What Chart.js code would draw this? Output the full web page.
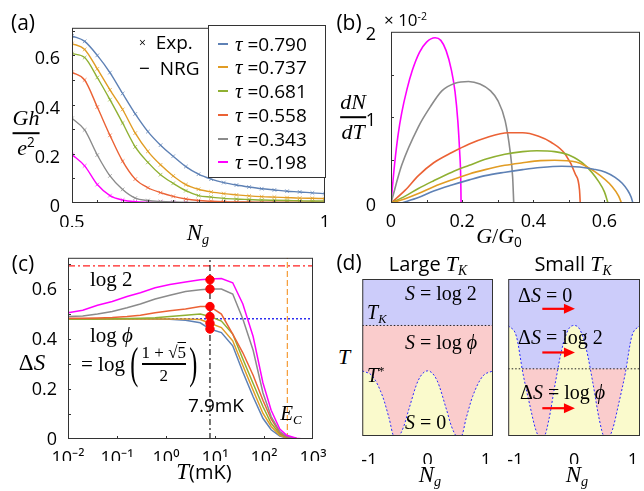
<!DOCTYPE html>
<html><head><meta charset="utf-8">
<script src="https://cdn.jsdelivr.net/npm/chart.js@4.4.1/dist/chart.umd.min.js"></script>
<style>
body{margin:0;background:#fff;width:644px;height:491px;overflow:hidden;position:relative;font-family:"Open Sans",sans-serif;color:#000;}
canvas{position:absolute;}
.t{position:absolute;transform:translate(-50%,-50%);white-space:nowrap;line-height:1;}
.tl{position:absolute;transform:translate(0,-50%);white-space:nowrap;line-height:1;}
.m{font-family:"Liberation Serif",serif;font-style:italic;}
.up{font-style:normal;}
.sans{font-family:"Open Sans",sans-serif;font-style:normal;}
.sup{font-size:.62em;position:relative;top:-.55em;}
.sub{font-size:.62em;position:relative;top:.3em;}
.frac{position:absolute;transform:translate(-50%,-50%);display:flex;flex-direction:column;align-items:center;line-height:1;}
.bar{height:1.6px;background:#000;align-self:stretch;margin:3px 0 3px 0;}
.legend{position:absolute;left:208px;top:25px;width:116px;height:151px;border:1px solid #333;background:#fff;}
.sw{position:absolute;width:10px;height:2px;}
</style></head><body>

<canvas id="ca"></canvas>
<canvas id="cb"></canvas>
<canvas id="cc"></canvas>
<canvas id="cdl"></canvas>
<canvas id="cdr"></canvas>

<!-- panel (a) texts -->
<div class="t" style="left:23px;top:22px;font-size:21px">(a)</div>
<div class="frac m" style="left:26px;top:133px;font-size:22px"><span>Gh</span><span class="bar"></span><span>e<span class="sup up" style="font-family:'Open Sans'">2</span></span></div>
<div class="t m" style="left:198px;top:232px;font-size:23px">N<span class="sub">g</span></div>
<div class="tl" style="left:139px;top:42px;font-size:19px"><span style="font-size:12px;position:relative;top:-2px">×</span>&nbsp; Exp.</div>
<div class="tl" style="left:139px;top:68px;font-size:19px">−&nbsp; NRG</div>
<div class="legend" id="leg"></div>

<!-- panel (b) texts -->
<div class="t" style="left:349px;top:22px;font-size:21px">(b)</div>
<div class="tl" style="left:384px;top:19px;font-size:17px">× 10<span class="sup">-2</span></div>
<div class="frac m" style="left:353px;top:117px;font-size:22px"><span>dN</span><span class="bar"></span><span>dT</span></div>
<div class="t m" style="left:499px;top:236px;font-size:22px">G<span class="up">/</span>G<span class="sub up" style="font-family:'Open Sans'">0</span></div>

<!-- panel (c) texts -->
<div class="t" style="left:23px;top:263px;font-size:21px">(c)</div>
<div class="t" style="left:32px;top:362px;font-size:23px"><span style="font-family:'Liberation Serif'">Δ</span><span class="m">S</span></div>
<div class="t" style="left:204px;top:471px;font-size:20px"><span class="m" style="font-size:23px">T</span>(mK)</div>
<div class="tl m" style="left:90px;top:279px;font-size:21px"><span class="up">log 2</span></div>
<div class="tl m" style="left:90px;top:335px;font-size:21px"><span class="up">log </span>ϕ</div>
<div class="tl" style="left:81px;top:364px;display:flex;align-items:center;font-family:'Liberation Serif',serif;font-size:21px">
  <span>= log</span><span style="font-size:44px;margin-left:2px;transform:scaleX(0.55)">(</span>
  <span style="display:flex;flex-direction:column;align-items:center;font-size:17px;line-height:1"><span>1 + √<span style="text-decoration:overline">5</span></span><span class="bar" style="height:1.3px;margin:2px 0"></span><span>2</span></span>
  <span style="font-size:44px;transform:scaleX(0.55)">)</span></div>
<div class="t" style="left:216px;top:405px;font-size:19px">7.9mK</div>
<div class="t m" style="left:291px;top:413px;font-size:21px">E<span class="sub">C</span></div>

<!-- panel (d) texts -->
<div class="t" style="left:349px;top:262px;font-size:21px">(d)</div>
<div class="t" style="left:428px;top:264px;font-size:20px">Large <span class="m" style="font-size:22px">T<span class="sub">K</span></span></div>
<div class="t" style="left:573px;top:264px;font-size:20px">Small <span class="m" style="font-size:22px">T<span class="sub">K</span></span></div>
<div class="t m" style="left:344px;top:357px;font-size:22px">T</div>
<div class="t m" style="left:430px;top:474px;font-size:23px">N<span class="sub">g</span></div>
<div class="t m" style="left:577px;top:474px;font-size:23px">N<span class="sub">g</span></div>
<div class="tl m" style="left:405px;top:293px;font-size:20px">S <span class="up">= log 2</span></div>
<div class="tl m" style="left:367px;top:312px;font-size:20px">T<span class="sub">K</span></div>
<div class="tl m" style="left:405px;top:342px;font-size:20px">S <span class="up">= log </span>ϕ</div>
<div class="tl m" style="left:367px;top:375px;font-size:20px">T<span class="sup up">*</span></div>
<div class="tl m" style="left:405px;top:422px;font-size:20px">S <span class="up">= 0</span></div>
<div class="tl m" style="left:518px;top:295px;font-size:20px"><span class="up">Δ</span>S <span class="up">= 0</span></div>
<div class="tl m" style="left:518px;top:337px;font-size:20px"><span class="up">Δ</span>S <span class="up">= log 2</span></div>
<div class="tl m" style="left:520px;top:392px;font-size:20px"><span class="up">Δ</span>S <span class="up">= log </span>ϕ</div>

<script>
// ---------- panel (a): conductance vs Ng ----------
const tauLabels = ['0.790','0.737','0.681','0.558','0.343','0.198'];
const seriesColors = ['#5E81B5','#E19C24','#8FB032','#EB6235','#8B8B8B','#FF00FF'];
const ngA = [0.5,0.525,0.55,0.575,0.6,0.625,0.65,0.675,0.7,0.725,0.75,0.775,0.8,0.825,0.85,0.875,0.9,0.925,0.95,0.975,1.0];
const gA790 = [0.679,0.657,0.600,0.530,0.445,0.362,0.290,0.235,0.190,0.148,0.117,0.097,0.083,0.073,0.065,0.058,0.053,0.048,0.045,0.041,0.038];
const gA737 = [0.648,0.624,0.545,0.460,0.380,0.284,0.210,0.155,0.110,0.075,0.056,0.045,0.038,0.033,0.029,0.026,0.024,0.022,0.020,0.019,0.018];
const gA681 = [0.607,0.591,0.510,0.420,0.325,0.228,0.165,0.115,0.080,0.050,0.030,0.024,0.019,0.016,0.014,0.012,0.011,0.010,0.009,0.008,0.008];
const gA558 = [0.531,0.500,0.390,0.275,0.170,0.097,0.062,0.042,0.027,0.016,0.010,0.007,0.005,0.004,0.004,0.003,0.003,0.003,0.003,0.003,0.003];
const gA343 = [0.344,0.297,0.195,0.110,0.055,0.020,0.010,0.006,0.004,0.003,0.002,0.002,0.002,0.002,0.002,0.002,0.002,0.002,0.002,0.002,0.002];
const gA198 = [0.197,0.151,0.075,0.030,0.012,0.005,0.003,0.002,0.002,0.001,0.001,0.001,0.001,0.001,0.001,0.001,0.001,0.001,0.001,0.001,0.001];
const aXTicks = [0.5, 1], aXLabels = ['0.5','1'];
const aYTicks = [0, 0.2, 0.4, 0.6], aYLabels = ['0','0.2','0.4','0.6'];

// ---------- panel (b): dN/dT vs G/G0 (units of 1e-2) ----------
const bG790 = [0.03,0.077,0.12,0.171,0.22,0.265,0.321,0.37,0.42,0.48,0.53,0.57,0.603,0.63,0.65,0.665,0.675,0.68];
const bD790 = [0,0.064,0.14,0.21,0.27,0.32,0.36,0.39,0.415,0.43,0.42,0.395,0.36,0.30,0.23,0.15,0.07,0];
const bG737 = [0,0.04,0.077,0.12,0.171,0.22,0.265,0.32,0.37,0.42,0.46,0.52,0.575,0.622,0.64,0.648];
const bD737 = [0,0.05,0.11,0.19,0.27,0.34,0.39,0.44,0.47,0.495,0.50,0.48,0.36,0.19,0.08,0];
const bG681 = [0,0.04,0.077,0.12,0.171,0.22,0.265,0.32,0.37,0.41,0.46,0.50,0.546,0.584,0.60,0.61];
const bD681 = [0,0.08,0.17,0.26,0.36,0.44,0.51,0.57,0.60,0.61,0.60,0.56,0.44,0.25,0.13,0];
const bG558 = [0,0.04,0.077,0.12,0.171,0.22,0.265,0.33,0.37,0.415,0.45,0.49,0.518,0.53,0.532];
const bD558 = [0,0.15,0.32,0.47,0.59,0.69,0.76,0.82,0.82,0.78,0.71,0.57,0.34,0.15,0];
const bG343 = [0,0.03,0.077,0.11,0.143,0.18,0.218,0.25,0.28,0.30,0.321,0.335,0.342,0.345];
const bD343 = [0,0.44,0.89,1.12,1.31,1.40,1.42,1.39,1.31,1.20,0.96,0.60,0.30,0];
const bG198 = [0,0.01,0.02,0.03,0.045,0.06,0.08,0.10,0.124,0.14,0.155,0.17,0.18,0.188,0.193,0.196,0.197];
const bD198 = [0,0.45,0.80,1.05,1.33,1.55,1.76,1.88,1.93,1.90,1.78,1.55,1.30,0.95,0.60,0.30,0];
const bXTicks = [0,0.2,0.4,0.6], bXLabels = ['0','0.2','0.4','0.6'];
const bYTicks = [0,1,2], bYLabels = ['0','1','2'];

// ---------- panel (c): entropy vs T ----------
const tC = [0.01,0.02,0.04,0.08,0.16,0.3,0.6,1.2,2.5,5,7.9,13.5,23,37,60,95,140,210,290,460,630];
const sC790 = [0.48,0.48,0.48,0.48,0.48,0.48,0.48,0.479,0.475,0.465,0.44,0.426,0.373,0.268,0.169,0.083,0.037,0.012,0.004,0.001,0];
const sC737 = [0.48,0.48,0.48,0.48,0.48,0.48,0.48,0.48,0.48,0.478,0.463,0.446,0.393,0.294,0.195,0.103,0.05,0.015,0.005,0.001,0];
const sC681 = [0.48,0.48,0.48,0.481,0.482,0.483,0.485,0.49,0.495,0.50,0.49,0.472,0.42,0.32,0.222,0.13,0.063,0.02,0.007,0.002,0];
const sC558 = [0.483,0.483,0.484,0.486,0.49,0.495,0.505,0.513,0.52,0.53,0.53,0.50,0.42,0.345,0.255,0.155,0.08,0.025,0.008,0.002,0];
const sC343 = [0.49,0.492,0.50,0.51,0.525,0.54,0.56,0.575,0.59,0.597,0.60,0.60,0.58,0.48,0.355,0.185,0.09,0.03,0.01,0.002,0];
const sC198 = [0.505,0.515,0.535,0.55,0.57,0.585,0.605,0.618,0.628,0.637,0.64,0.642,0.625,0.54,0.41,0.225,0.115,0.04,0.015,0.003,0];
const dotT = 7.9;
const dotS = [0.44,0.463,0.49,0.53,0.60,0.637];
const log2 = 0.693, logPhi = 0.481, tEc = 300;
const cXTicks = [0.01,0.1,1,10,100,1000], cXLabels = ['10⁻²','10⁻¹','10⁰','10¹','10²','10³'];
const cYTicks = [0,0.2,0.4,0.6], cYLabels = ['0','0.2','0.4','0.6'];

// ---------- panel (d): schematic phase diagrams ----------
const ngDL = [-1.12,-0.94,-0.77,-0.66,-0.577,-0.504,-0.41,-0.325,-0.157,0,0.157,0.325,0.41,0.504,0.577,0.66,0.77,0.94,1.12];
const tStarL = [0.415,0.379,0.251,0.113,0,0,0.06,0.166,0.357,0.415,0.357,0.166,0.06,0,0,0.113,0.251,0.379,0.415];
const tKL = 0.704;
const ngDR = [-1.12,-0.98,-0.87,-0.76,-0.65,-0.595,-0.51,-0.43,-0.32,-0.21,-0.10,0,0.10,0.21,0.32,0.43,0.51,0.595,0.65,0.76,0.87,0.98,1.12];
const tStarR = [0.704,0.634,0.40,0.209,0.038,0,0,0.102,0.336,0.549,0.677,0.704,0.677,0.549,0.336,0.102,0,0,0.038,0.209,0.40,0.634,0.704];
const tKR = 0.428;
const arrowsR = [{x0:-0.54,x1:0.014,y:0.81},{x0:-0.54,x1:0.014,y:0.532},{x0:-0.54,x1:0.014,y:0.177}];
const dXTicks = [-1,0,1], dXLabels = ['-1','0','1'];

// ---------- helpers ----------
Chart.defaults.font.family = '"Open Sans", sans-serif';
Chart.defaults.font.size = 18;
Chart.defaults.color = '#000';

const pts = (xs, ys) => xs.map((x,i)=>({x, y:ys[i]}));
const fade = (hex, a) => { const n=parseInt(hex.slice(1),16); return `rgba(${n>>16},${(n>>8)&255},${n&255},${a})`; };

const framePlugin = {
  id:'frame',
  afterDatasetsDraw(chart, args, o){
    const {ctx, chartArea:a} = chart; const x = chart.scales.x, y = chart.scales.y;
    ctx.save(); ctx.strokeStyle = '#333'; ctx.lineWidth = 1;
    (o.xt||[]).forEach(t=>{ const px=Math.round(x.getPixelForValue(t[0]))+0.5; ctx.beginPath(); ctx.moveTo(px,a.bottom); ctx.lineTo(px,a.bottom-t[1]); ctx.stroke(); });
    (o.yt||[]).forEach(t=>{ const py=Math.round(y.getPixelForValue(t[0]))+0.5; ctx.beginPath(); ctx.moveTo(a.left,py); ctx.lineTo(a.left+t[1],py); ctx.stroke(); });
    ctx.strokeRect(a.left+0.5, a.top+0.5, a.right-a.left-1, a.bottom-a.top-1);
    (o.arrows||[]).forEach(ar=>{
      const x0=x.getPixelForValue(ar.x0), x1=x.getPixelForValue(ar.x1), py=y.getPixelForValue(ar.y);
      ctx.strokeStyle='#ff0000'; ctx.fillStyle='#ff0000'; ctx.lineWidth=2.2;
      ctx.beginPath(); ctx.moveTo(x0,py); ctx.lineTo(x1-9,py); ctx.stroke();
      ctx.beginPath(); ctx.moveTo(x1,py); ctx.lineTo(x1-11,py-5); ctx.lineTo(x1-11,py+5); ctx.closePath(); ctx.fill();
    });
    ctx.restore();
  }
};

function mkChart(id, box, pad, cfg){
  const cv = document.getElementById(id);
  const w = pad.l + box.r - box.l + pad.r, h = pad.t + box.b - box.t + pad.b;
  Object.assign(cv.style,{left:(box.l-pad.l)+'px', top:(box.t-pad.t)+'px', width:w+'px', height:h+'px'});
  cv.width = w; cv.height = h;
  const o = cfg.options;
  o.responsive=false; o.animation=false; o.devicePixelRatio=1; o.maintainAspectRatio=false;
  const yOff = o.scales.y.display===false;
  o.layout = {padding:{left: yOff?pad.l:0, top:pad.t, right:pad.r, bottom:0}};
  o.scales.x.afterFit = s=>{ s.height = pad.b; };
  if(!yOff) o.scales.y.afterFit = s=>{ s.width = pad.l; };
  o.plugins = Object.assign({legend:{display:false}, tooltip:{enabled:false}}, o.plugins||{});
  cfg.plugins = [framePlugin];
  return new Chart(cv, cfg);
}
function axis(type, min, max, ticks, labels, extra){
  return Object.assign({type, min, max, grid:{display:false}, border:{display:false},
    afterBuildTicks: s=>{ s.ticks = ticks.map(v=>({value:v})); },
    ticks:{autoSkip:false, maxRotation:0, padding:3, callback:(v)=>{ const i=ticks.findIndex(t=>Math.abs(t-v)<1e-9*Math.max(1,Math.abs(v))); return i>=0?labels[i]:''; }}
  }, extra||{});
}
const range = (a,b,s)=>{ const r=[]; for(let v=a; v<=b+1e-9; v+=s) r.push(+v.toFixed(6)); return r; };

// ---------- chart (a) ----------
const aSeries = [gA790,gA737,gA681,gA558,gA343,gA198];
const axA = axis('linear',0.5,1,aXTicks,aXLabels); axA.ticks.padding = 1;
const ayA = axis('linear',0,0.712,aYTicks,aYLabels); ayA.ticks.padding = 4; ayA.ticks.labelOffset = 4;
mkChart('ca',{l:72,t:25,r:325,b:203},{l:60,t:12,r:12,b:24},{
  type:'scatter',
  data:{datasets: aSeries.map((g,k)=>({data:pts(ngA,g), showLine:true, borderColor:seriesColors[k], borderWidth:1.4,
     cubicInterpolationMode:'monotone', pointStyle:'crossRot', pointRadius:2.6, pointBorderWidth:1,
     pointBorderColor:fade(seriesColors[k],0.7), pointBackgroundColor:'transparent'}))},
  options:{scales:{x:axA, y:ayA},
    plugins:{frame:{xt:range(0.55,0.95,0.05).map(v=>[v,3]), yt:range(0.1,0.7,0.1).map(v=>[v,3])}}}
});
// legend (a)
const leg = document.getElementById('leg');
tauLabels.forEach((lab,k)=>{
  const yy = 17.7 + k*23.7;
  leg.insertAdjacentHTML('beforeend',
   `<div class="sw" style="left:9px;top:${yy-1}px;background:${seriesColors[k]}"></div>`+
   `<div class="tl" style="left:26px;top:${yy}px;font-size:19px"><span class="m" style="font-size:21px">τ</span> =${lab}</div>`);
});

// ---------- chart (b) ----------
const bSeries = [[bG790,bD790],[bG737,bD737],[bG681,bD681],[bG558,bD558],[bG343,bD343],[bG198,bD198]];
const axB = axis('linear',0,0.7,bXTicks,bXLabels); axB.ticks.padding = 0;
const ayB = axis('linear',0,2.0,bYTicks,bYLabels); ayB.ticks.padding = 7; ayB.ticks.labelOffset = 3;
mkChart('cb',{l:391,t:28,r:640,b:203},{l:40,t:14,r:10,b:24},{
  type:'scatter',
  data:{datasets: bSeries.map((s,k)=>({data:pts(s[0],s[1]), showLine:true, borderColor:seriesColors[k], borderWidth:1.6,
     cubicInterpolationMode:'monotone', pointRadius:0}))},
  options:{scales:{x:axB, y:ayB},
    plugins:{frame:{xt:range(0.1,0.6,0.1).map(v=>[v,3]), yt:range(0.5,1.5,0.5).map(v=>[v,3])}}}
});

// ---------- chart (c) ----------
const cSeries = [sC790,sC737,sC681,sC558,sC343,sC198];
const axC = axis('logarithmic',0.01,1000,cXTicks,cXLabels); axC.ticks.padding = 1;
const ayC = axis('linear',0,0.725,cYTicks,cYLabels); ayC.ticks.padding = 3; ayC.ticks.labelOffset = 1;
const cDatasets = [
  {data:[{x:0.01,y:log2},{x:1000,y:log2}], showLine:true, borderColor:'#ff2020', borderWidth:1.2, borderDash:[7,3,2,3], pointRadius:0},
  {data:[{x:0.01,y:logPhi},{x:1000,y:logPhi}], showLine:true, borderColor:'#1010ee', borderWidth:1.3, borderDash:[2,2], pointRadius:0},
  {data:[{x:dotT,y:0},{x:dotT,y:0.725}], showLine:true, borderColor:'#000', borderWidth:1.1, borderDash:[6,3,2,3], pointRadius:0},
  {data:[{x:tEc,y:0},{x:tEc,y:0.725}], showLine:true, borderColor:'#f5a040', borderWidth:1.3, borderDash:[6,3], pointRadius:0},
  ...cSeries.map((s,k)=>({data:pts(tC,s), showLine:true, borderColor:seriesColors[k], borderWidth:1.5, pointRadius:0, tension:0})),
  {data:dotS.map(v=>({x:dotT,y:v})), showLine:false, pointRadius:4.2, pointBackgroundColor:'#ff0000', pointBorderColor:'#ff0000'}
];
mkChart('cc',{l:68,t:256,r:313,b:439},{l:60,t:12,r:18,b:22},{
  type:'scatter',
  data:{datasets:cDatasets.reverse()},
  options:{scales:{x:axC, y:ayC},
    plugins:{frame:{xt:cXTicks.slice(1,5).map(v=>[v,3]), yt:range(0.1,0.7,0.1).map(v=>[v,3])}}}
});

// ---------- charts (d) ----------
const blueFill = 'rgb(204,204,250)', pinkFill = 'rgb(250,204,204)', yellowFill = 'rgb(250,250,204)';
function dDatasets(ng, ts, tk){
  return [
    {data:[{x:-1.12,y:tk},{x:1.12,y:tk}], showLine:true, borderColor:'#222', borderWidth:1, borderDash:[1.5,2], pointRadius:0, fill:false},
    {data:pts(ng,ts), showLine:true, borderColor:'#2a2aff', borderWidth:1, borderDash:[2,2], pointRadius:0, cubicInterpolationMode:'monotone', fill:'origin', backgroundColor:yellowFill},
    {data:[{x:-1.12,y:tk},{x:1.12,y:tk}], showLine:true, borderWidth:0, pointRadius:0, fill:'origin', backgroundColor:pinkFill},
    {data:[{x:-1.12,y:1},{x:1.12,y:1}], showLine:true, borderWidth:0, pointRadius:0, fill:'origin', backgroundColor:blueFill}
  ];
}
function dChart(id, box, ng, ts, tk, arrows){
  const ax = axis('linear',-1.12,1.12,dXTicks,dXLabels); ax.ticks.padding = 6;
  mkChart(id, box, {l:4,t:4,r:12,b:28},{
    type:'scatter',
    data:{datasets:dDatasets(ng,ts,tk)},
    options:{scales:{x:ax, y:{type:'linear',min:0,max:1,display:false}},
      plugins:{filler:{propagate:false}, frame:{arrows:arrows||[]}}}
  });
}
dChart('cdl',{l:359,t:279,r:493,b:436}, ngDL, tStarL, tKL);
dChart('cdr',{l:505,t:279,r:640,b:436}, ngDR, tStarR, tKR, arrowsR);
</script>
</body></html>
